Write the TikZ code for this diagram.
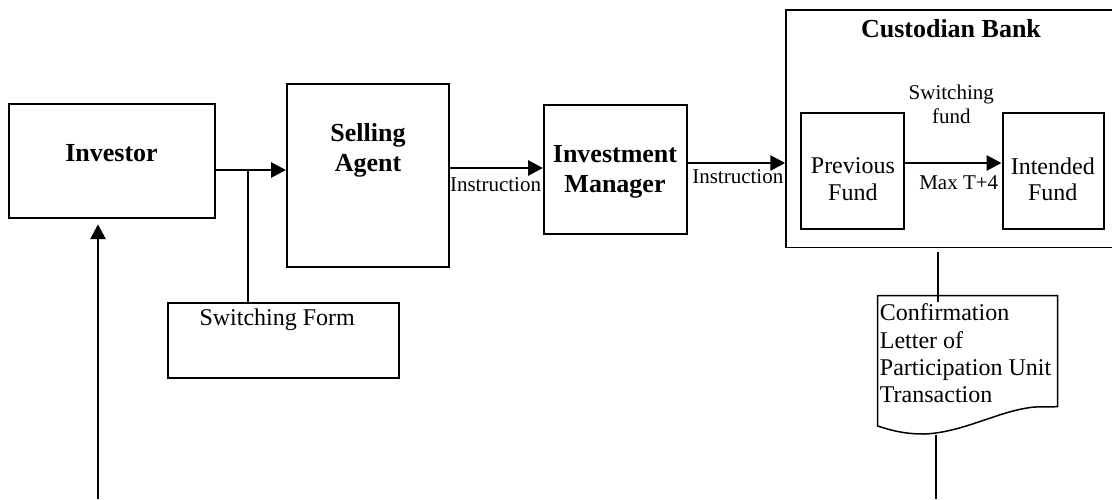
\documentclass[tikz,border=0pt]{standalone}
\usepackage{fontspec}
\setmainfont{Liberation Serif}
\usetikzlibrary{arrows.meta}
\begin{document}
\begin{tikzpicture}[x=0.5pt,y=-0.5pt,
  box/.style={draw,line width=1pt,inner sep=0pt},
  thinbox/.style={draw,line width=0.75pt,inner sep=0pt},
  big/.style={font=\fontsize{13}{15}\selectfont\bfseries,inner sep=0pt,align=center},
  mid/.style={font=\fontsize{12}{13.3}\selectfont,inner sep=0pt,align=center},
  small/.style={font=\fontsize{10.5}{11.7}\selectfont,inner sep=0pt,align=center},
  arr/.style={line width=1.4pt,-{Triangle[length=7.5pt,width=7.5pt]}},
  link/.style={line width=0.8pt}]
\useasboundingbox (0,0) rectangle (1112,499);
\clip (0,0) rectangle (1112,499);

% boxes
\node[box,minimum width=103.2pt,minimum height=57pt] (inv) at (111.8,160.7) {};
\node[box,minimum width=81pt,minimum height=91.5pt] (sa) at (368,175.5) {};
\node[box,minimum width=71.5pt,minimum height=64.5pt] (im) at (615.5,169.5) {};
\node[thinbox,minimum width=172pt,minimum height=118.75pt] (cb) at (958,128.75) {};
\node[box,minimum width=51.5pt,minimum height=58pt] (pf) at (852.5,171.3) {};
\node[box,minimum width=50.5pt,minimum height=58pt] (ifund) at (1053,170.7) {};
\node[box,minimum width=115.5pt,minimum height=37.5pt] (sf) at (283.5,340.5) {};

% texts
\node[big] (invt) at (111.5,153) {Investor};
\node[big] (sat) at (368,150.7) {Selling\\Agent};
\node[big] (imt) at (615,171.5) {Investment\\Manager};
\node[big] (cbt) at (951,28.7) {Custodian Bank};
\node[mid] (pft) at (852.9,179.4) {Previous\\Fund};
\node[mid] (ift) at (1052.8,179.4) {Intended\\Fund};
\node[mid] (sft) at (277.2,320) {Switching Form};
\node[small] (ins1) at (495.5,185) {Instruction};
\node[small] (ins2) at (737.8,177) {Instruction};
\node[small] (swf) at (951.3,104.5) {Switching\\fund};
\node[small] (maxt) at (958.7,182.3) {Max T+4};

% document shape
\draw[thinbox] (877.7,295.7) -- (1057.7,295.7) -- (1057.7,406.7) -- (1035,407)
  .. controls (1000,410) and (965,432) .. (925,434)
  .. controls (905,434) and (893,431) .. (877.7,426) -- cycle;
\coordinate (doctop) at (938,295.7);
\coordinate (docbot) at (936,434.5);
\node[anchor=north west,align=left,inner sep=0pt,font=\fontsize{12}{13.6}\selectfont] (doct) at (879.5,303.6)
  {Confirmation\\Letter of\\Participation Unit\\Transaction};

% connectors
\draw[arr] (inv.east |- 0,170) -- (sa.west |- 0,170);
\coordinate (br) at (248,170);
\draw[link] (br) -- (br |- sf.north);
\draw[arr] (sa.east |- 0,168) -- (im.west |- 0,168);
\draw[arr] (im.east |- 0,163) -- (cb.west |- 0,163);
\draw[arr] (pf.east |- 0,163) -- (ifund.west |- 0,163);
\draw[link] ([yshift=-1.75pt]cb.south -| doctop) -- ([yshift=-3pt]doctop);
\coordinate (docend) at (936,499);
\draw[link] (docbot) -- (docend);
\coordinate (upst) at (98,499);
\draw[arr,shorten >=2.75pt] (upst) -- (upst |- inv.south);
\end{tikzpicture}
\end{document}
